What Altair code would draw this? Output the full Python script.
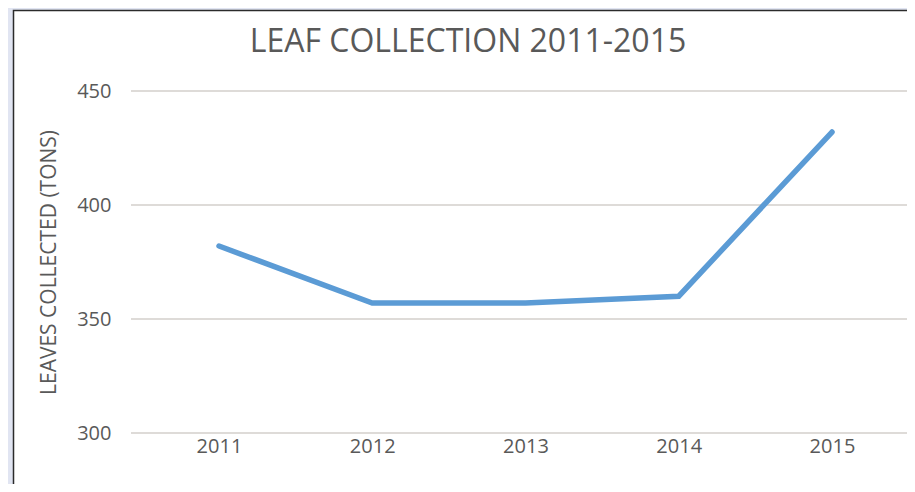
import altair as alt
import pandas as pd

years = [2011, 2012, 2013, 2014, 2015]
tons = [382, 357, 357, 360, 432]
y_ticks = [300, 350, 400, 450]

W, H = 776, 342
df = pd.DataFrame({"year": years, "tons": tons})
grid_df = pd.DataFrame({"t": y_ticks})
panel_df = pd.DataFrame({"a": [0]})

text_color = "#595959"
font = "Open Sans"

panel = alt.Chart(panel_df).mark_rect(
    fill="white", stroke="#2b2b2b", strokeWidth=1.5, clip=False
).encode(
    x=alt.value(-117.5), x2=alt.value(W + 40),
    y=alt.value(-80.5), y2=alt.value(H + 80),
)

grid = alt.Chart(grid_df).mark_rule(color="#dedbd8", strokeWidth=2).encode(
    y=alt.Y("t:Q", scale=alt.Scale(domain=[300, 450])),
    x=alt.value(0), x2=alt.value(W),
)

line = alt.Chart(df).mark_line(color="#5b9bd5", strokeWidth=5.5, strokeCap="round").encode(
    x=alt.X(
        "year:Q",
        scale=alt.Scale(domain=[2010.4258, 2015.4894], nice=False, zero=False),
        axis=alt.Axis(
            values=years, format="d", grid=False, domain=False, ticks=False,
            labelFontSize=20, labelColor=text_color, labelFont=font,
            labelPadding=3, title=None, zindex=2,
        ),
    ),
    y=alt.Y(
        "tons:Q",
        scale=alt.Scale(domain=[300, 450], nice=False, zero=False),
        axis=alt.Axis(
            values=y_ticks, grid=False, domain=False, ticks=False,
            labelFontSize=20, labelColor=text_color, labelFont=font,
            labelPadding=20, title="LEAVES COLLECTED (TONS)",
            titleFontSize=21, titleColor=text_color, titleFont=font,
            titleFontWeight="normal", titlePadding=17, zindex=2,
        ),
    ),
)

chart = alt.layer(panel, grid, line).properties(
    width=W, height=H,
    autosize=alt.AutoSizeParams(type="none"),
    padding={"left": 123, "top": 83, "right": 0, "bottom": 51},
    background="#e1e5f2",
    title=alt.TitleParams(
        "LEAF COLLECTION 2011-2015", fontSize=32, font=font, color=text_color,
        fontWeight="normal", anchor="middle", frame="group", dx=-51, offset=-49,
    ),
).configure_view(stroke=None)

chart.save("out.html", embed_options={"renderer": "svg", "actions": False})
